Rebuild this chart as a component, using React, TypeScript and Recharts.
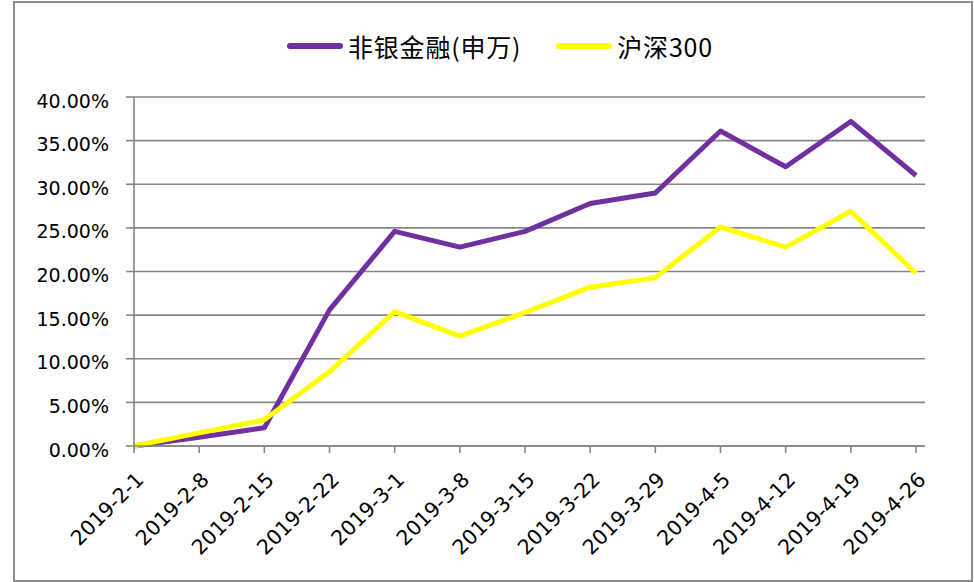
import React from 'react';
import { LineChart, Line, XAxis, YAxis, CartesianGrid, Legend } from 'recharts';

const dates = [
    '2019-2-1', '2019-2-8', '2019-2-15', '2019-2-22', '2019-3-1', '2019-3-8', '2019-3-15',
    '2019-3-22', '2019-3-29', '2019-4-5', '2019-4-12', '2019-4-19', '2019-4-26',
];
const nonBank = [0, 1.0, 2.1, 15.6, 24.6, 22.8, 24.6, 27.8, 29.0, 36.1, 32.0, 37.2, 31.0];
const hs300 = [0, 1.5, 3.0, 8.5, 15.4, 12.6, 15.3, 18.2, 19.3, 25.1, 22.8, 26.9, 19.8];
const yTicks = [0, 5, 10, 15, 20, 25, 30, 35, 40];

const SERIES = [
    { key: 'nonBank', name: '非银金融(申万)', color: '#7030A0' },
    { key: 'hs300', name: '沪深300', color: '#FFFF00' },
];

const data = dates.map((d, i) => ({ date: d, nonBank: nonBank[i], hs300: hs300[i] }));

const GRID = '#868686';
const FONT = '"DejaVu Sans", sans-serif';

const XTick = ({ x, y, payload }: any) => {
    const ax = x + 11;
    const ay = y + 28;
    return (
        <text x={ax} y={ay} transform={`rotate(-45, ${ax}, ${ay})`} textAnchor="end"
            fontSize={20.5} fontFamily={FONT} fill="#000">
            {payload.value}
        </text>
    );
};

const YTick = ({ x, y, payload }: any) => (
    <text x={x} y={y + 10.5} textAnchor="end" fontSize={19} fontFamily={FONT} fill="#000">
        {Number(payload.value).toFixed(2)}%
    </text>
);

const LegendBox = () => (
    <div style={{ display: 'flex', alignItems: 'center', height: 32 }}>
        {SERIES.map((s, i) => (
            <div key={s.key} style={{ display: 'flex', alignItems: 'center', marginRight: i === 0 ? 35 : 0 }}>
                <svg width={56} height={8} style={{ marginRight: 5 }}>
                    <line x1={3} y1={4} x2={53} y2={4} stroke={s.color} strokeWidth={6} strokeLinecap="round" />
                </svg>
                <span style={{ fontFamily: '"Noto Sans CJK SC", sans-serif', fontSize: 25, letterSpacing: 0.8, color: '#000', lineHeight: '32px' }}>
                    {s.name}
                </span>
            </div>
        ))}
    </div>
);

export default function App() {
    return (
        <div style={{ position: 'absolute', left: 0, top: 0, width: 974, height: 582, background: '#fff' }}>
            <div style={{
                position: 'absolute', left: 13, top: 1, width: 956, height: 577,
                border: '2px solid #8c8c8c',
            }} />
            <div style={{ position: 'absolute', left: 0, top: 0 }}>
                <LineChart width={974} height={582} data={data}
                    margin={{ top: 97, right: 49, bottom: 56, left: 0 }}>
                    <CartesianGrid vertical={false} stroke={GRID} strokeWidth={1.6} />
                    <XAxis dataKey="date" interval={0} height={80} padding={{ left: 0, right: 9 }}
                        axisLine={{ stroke: GRID, strokeWidth: 1.6 }} tickLine={{ stroke: GRID, strokeWidth: 1.6 }}
                        tickSize={7} tickMargin={0} tick={<XTick />} />
                    <YAxis width={134} domain={[0, 40]} ticks={yTicks} interval={0}
                        axisLine={{ stroke: GRID, strokeWidth: 1.6 }} tickLine={{ stroke: GRID, strokeWidth: 1.6 }}
                        tickSize={8} tickMargin={17} tick={<YTick />} />
                    <Legend layout="horizontal" verticalAlign="middle" align="center"
                        wrapperStyle={{ top: 30, left: 287, width: 'auto' }} content={<LegendBox />} />
                    {SERIES.map((s) => (
                        <Line key={s.key} type="linear" dataKey={s.key} name={s.name} stroke={s.color}
                            strokeWidth={5} strokeLinejoin="round" dot={false} activeDot={false}
                            isAnimationActive={false} />
                    ))}
                </LineChart>
            </div>
        </div>
    );
}
